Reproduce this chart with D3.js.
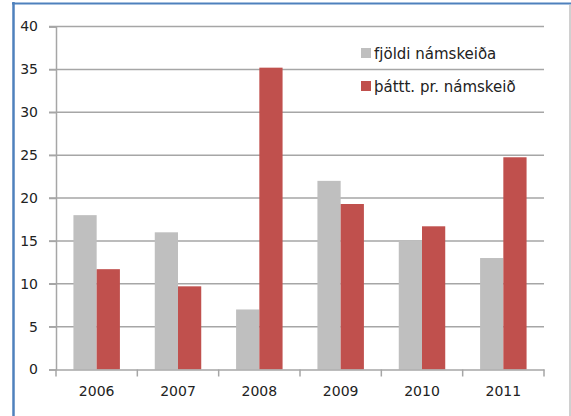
<!DOCTYPE html>
<html>
<head>
<meta charset="utf-8">
<script src="https://cdn.jsdelivr.net/npm/d3@7"></script>
<style>
  body { margin: 0; background: #fff; }
  svg text { font-family: "DejaVu Sans", sans-serif; fill: #222; }
</style>
</head>
<body>
<div id="chart"></div>
<script>
// Data
var years = ["2006", "2007", "2008", "2009", "2010", "2011"];
var seriesNames = ["fjöldi námskeiða", "þáttt. pr. námskeið"];
var fjoldi = [18, 16, 7, 22, 15, 13];
var thatttaka = [11.7, 9.7, 35.2, 19.3, 16.7, 24.75];
var yTicks = [0, 5, 10, 15, 20, 25, 30, 35, 40];
var colors = ["#bfbfbf", "#c0504d"];

var width = 571, height = 416;
var plot = { left: 56, right: 544, top: 26.5, bottom: 369.5 };

var svg = d3.select("#chart").append("svg")
    .attr("width", width)
    .attr("height", height);

// frame of the chart object (cropped at the bottom)
svg.append("line").attr("x1", 13.5).attr("x2", 13.5).attr("y1", 2).attr("y2", height)
    .attr("stroke", "#4f81bd").attr("stroke-width", 2.5);
svg.append("line").attr("x1", 12).attr("x2", width).attr("y1", 3.5).attr("y2", 3.5)
    .attr("stroke", "#4f81bd").attr("stroke-width", 2);
svg.append("line").attr("x1", 570).attr("x2", 570).attr("y1", 5).attr("y2", height)
    .attr("stroke", "#d0d0d0").attr("stroke-width", 2);

var y = d3.scaleLinear().domain([0, 40]).range([plot.bottom, plot.top]);
var x0 = d3.scaleBand().domain(years).range([plot.left, plot.right]).padding(0);
var bw = x0.bandwidth();
var gap = bw * 0.75 / 3.5; // Excel gap width 150%
var x1 = d3.scaleBand().domain(seriesNames).range([gap, bw - gap]).padding(0);

// gridlines
svg.append("g")
    .selectAll("line")
    .data(yTicks.slice(1))
    .enter().append("line")
    .attr("x1", plot.left - 7).attr("x2", plot.right)
    .attr("y1", function(d) { return y(d); })
    .attr("y2", function(d) { return y(d); })
    .attr("stroke", "#a6a6a6").attr("stroke-width", 1.5);

// bars
var values = [fjoldi, thatttaka];
var groups = svg.append("g").selectAll("g")
    .data(years)
    .enter().append("g")
    .attr("transform", function(d) { return "translate(" + x0(d) + ",0)"; });

groups.selectAll("rect")
    .data(function(d, i) {
        return seriesNames.map(function(s, j) { return { s: s, v: values[j][i], c: colors[j] }; });
    })
    .enter().append("rect")
    .attr("x", function(d) { return x1(d.s); })
    .attr("width", x1.bandwidth())
    .attr("y", function(d) { return y(d.v); })
    .attr("height", function(d) { return y(0) - y(d.v); })
    .attr("fill", function(d) { return d.c; });

// y axis
var yAxis = svg.append("g")
    .attr("transform", "translate(" + plot.left + ",0)")
    .call(d3.axisLeft(y).tickValues(yTicks).tickSize(7).tickPadding(11));
yAxis.select(".domain").attr("stroke", "#a6a6a6").attr("stroke-width", 1.5);
yAxis.selectAll(".tick line").attr("stroke", "#a6a6a6").attr("stroke-width", 1.5);
yAxis.selectAll("text").style("font-size", "14px");

// x axis
var xAxis = svg.append("g")
    .attr("transform", "translate(0," + plot.bottom + ")")
    .call(d3.axisBottom(x0).tickSize(0).tickPadding(17));
xAxis.select(".domain").attr("stroke", "#a6a6a6").attr("stroke-width", 1.5);
xAxis.selectAll("text").style("font-size", "14px");
xAxis.append("g").selectAll("line")
    .data(d3.range(years.length + 1))
    .enter().append("line")
    .attr("x1", function(i) { return plot.left + i * bw; })
    .attr("x2", function(i) { return plot.left + i * bw; })
    .attr("y1", 0).attr("y2", 7)
    .attr("stroke", "#a6a6a6").attr("stroke-width", 1.5);

// legend
var legend = svg.append("g").attr("transform", "translate(361,48)");
var items = legend.selectAll("g")
    .data(seriesNames)
    .enter().append("g")
    .attr("transform", function(d, i) { return "translate(0," + (i * 33) + ")"; });
items.append("rect")
    .attr("width", 10).attr("height", 10)
    .attr("fill", function(d, i) { return colors[i]; });
items.append("text")
    .attr("x", 13).attr("y", 10.5)
    .style("font-size", "15px")
    .text(function(d) { return d; });
</script>
</body>
</html>
